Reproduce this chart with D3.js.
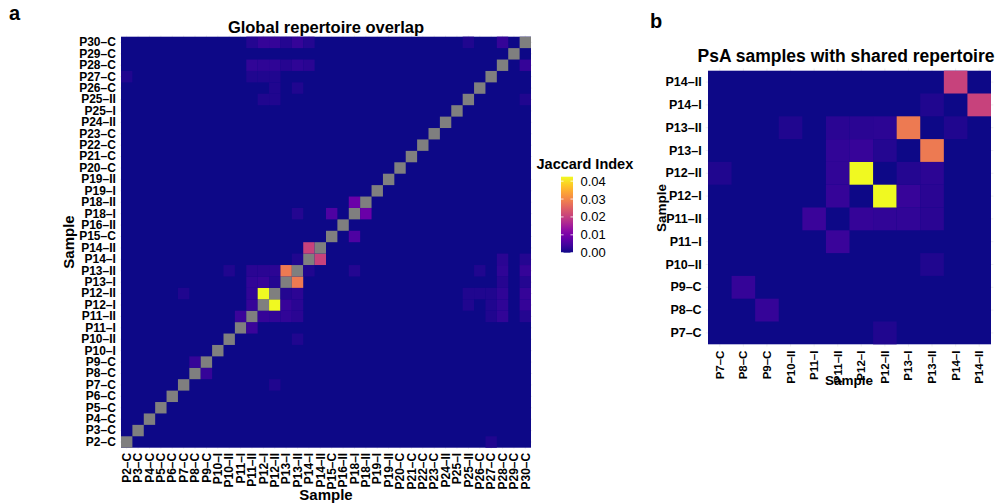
<!DOCTYPE html>
<html>
<head>
<meta charset="utf-8">
<script src="https://cdn.jsdelivr.net/npm/d3@7"></script>
<style>
  body { margin: 0; background: #fff; }
  svg { font-family: "Liberation Sans", Arial, Helvetica, sans-serif; }
</style>
</head>
<body>
<div id="chart"></div>
<script>
// all samples, bottom-to-top / left-to-right
const samples = ["P2–C", "P3–C", "P4–C", "P5–C", "P6–C", "P7–C", "P8–C", "P9–C",
  "P10–I", "P10–II", "P11–I", "P11–II", "P12–I", "P12–II", "P13–I", "P13–II",
  "P14–I", "P14–II", "P15–C", "P16–II", "P18–I", "P18–II", "P19–I", "P19–II",
  "P20–C", "P21–C", "P22–C", "P23–C", "P24–II", "P25–I", "P25–II", "P26–C",
  "P27–C", "P28–C", "P29–C", "P30–C"];

// samples in panel b
const psaSamples = ["P7–C", "P8–C", "P9–C", "P10–II", "P11–I", "P11–II",
  "P12–I", "P12–II", "P13–I", "P13–II", "P14–I", "P14–II"];

// non-zero overlaps (symmetric), everything else is ~0
const sampleA = ["P12–I", "P13–I", "P14–I", "P18–I", "P15–C", "P13–II", "P8–C", "P11–I",
  "P11–II", "P11–II", "P11–II", "P11–II", "P12–I", "P12–I", "P12–II", "P12–II",
  "P13–II", "P10–II", "P7–C", "P2–C", "P11–II", "P12–I", "P12–II", "P13–I",
  "P13–II", "P14–I", "P11–II", "P12–I", "P12–II", "P13–I", "P13–II", "P14–I",
  "P25–II", "P28–C", "P11–II", "P12–I", "P12–II", "P12–II", "P13–II", "P12–I", "P12–II"];
const sampleB = ["P12–II", "P13–II", "P14–II", "P18–II", "P18–I", "P18–I", "P9–C", "P11–II",
  "P12–I", "P12–II", "P13–I", "P13–II", "P13–I", "P13–II", "P13–I", "P13–II",
  "P14–I", "P13–II", "P12–II", "P27–C", "P28–C", "P28–C", "P28–C", "P28–C",
  "P28–C", "P28–C", "P30–C", "P30–C", "P30–C", "P30–C", "P30–C", "P30–C",
  "P30–C", "P30–C", "P27–C", "P27–C", "P27–C", "P26–C", "P26–C", "P25–II", "P25–II"];
const jaccard = [0.0425, 0.0285, 0.0205, 0.0085, 0.0055, 0.0015, 0.003, 0.0035,
  0.003, 0.0028, 0.0028, 0.002, 0.0032, 0.002, 0.0015, 0.0022,
  0.0012, 0.0012, 0.0012, 0.0012, 0.0028, 0.0025, 0.0025, 0.0018,
  0.0025, 0.002, 0.0015, 0.003, 0.003, 0.0015, 0.003, 0.0015,
  0.0012, 0.003, 0.0013, 0.0013, 0.0013, 0.0012, 0.0012, 0.0012, 0.0012];

const legendTicks = [0, 0.01, 0.02, 0.03, 0.04];
const maxJaccard = 0.0425;

const W = 1006, H = 504;
const svg = d3.select("#chart").append("svg").attr("width", W).attr("height", H);

const color = d3.scaleSequential(d3.interpolatePlasma).domain([0, maxJaccard]);

function lookup(a, b) {
  for (let k = 0; k < jaccard.length; k++) {
    if ((sampleA[k] === a && sampleB[k] === b) || (sampleA[k] === b && sampleB[k] === a)) return jaccard[k];
  }
  return 0;
}

function heatmap({names, left, right, top, bottom, diagNA, tickSizeY, tickSizeX}) {
  const x = d3.scaleBand().domain(names).range([left, right]);
  const y = d3.scaleBand().domain(names).range([bottom, top]);
  const ex = x.step() * 0.1, ey = y.step() * 0.1;
  const g = svg.append("g");

  // faint grid (only visible in the small panel margin)
  g.selectAll(".gx").data(names).join("line")
    .attr("x1", d => x(d) + x.bandwidth() / 2).attr("x2", d => x(d) + x.bandwidth() / 2)
    .attr("y1", top - ey).attr("y2", bottom + ey)
    .attr("stroke", "#ebebeb").attr("stroke-width", 0.8);
  g.selectAll(".gy").data(names).join("line")
    .attr("y1", d => y(d) + y.bandwidth() / 2).attr("y2", d => y(d) + y.bandwidth() / 2)
    .attr("x1", left - ex).attr("x2", right + ex)
    .attr("stroke", "#ebebeb").attr("stroke-width", 0.8);

  // base under tiles so no seams show through
  g.append("rect").attr("x", left).attr("y", top).attr("width", right - left)
    .attr("height", bottom - top).attr("fill", color(0));

  const cells = [];
  names.forEach(r => names.forEach(c => {
    cells.push({r, c, v: r === c ? (diagNA ? null : 0) : lookup(r, c)});
  }));
  g.selectAll(".cell").data(cells.filter(d => d.v !== 0)).join("rect")
    .attr("class", "cell")
    .attr("x", d => x(d.c)).attr("y", d => y(d.r))
    .attr("width", x.bandwidth()).attr("height", y.bandwidth())
    .attr("fill", d => d.v === null ? "#7f7f7f" : color(d.v));

  const ya = g.append("g").attr("transform", `translate(${left},0)`)
    .call(d3.axisLeft(y).tickSize(0).tickPadding(ex + 4));
  ya.select(".domain").remove();
  ya.selectAll("text").attr("font-size", tickSizeY).attr("font-weight", "bold")
    .attr("fill", "#000").attr("font-family", null);

  const xa = g.append("g").attr("transform", `translate(0,${bottom})`)
    .call(d3.axisBottom(x).tickSize(0));
  xa.select(".domain").remove();
  xa.selectAll("text").attr("font-size", tickSizeX).attr("font-weight", "bold")
    .attr("fill", "#000").attr("font-family", null)
    .attr("transform", "rotate(-90)").attr("x", -(ey + 4)).attr("y", 0)
    .attr("dy", "0.35em").style("text-anchor", "end");
  return {x, y};
}

// panel a
heatmap({names: samples, left: 121, right: 531, top: 36.7, bottom: 447.7,
  diagNA: true, tickSizeY: 12, tickSizeX: 12});

svg.append("text").attr("x", 326).attr("y", 33).attr("text-anchor", "middle")
  .attr("font-size", 16.5).attr("font-weight", "bold").text("Global repertoire overlap");
svg.append("text").attr("x", 326).attr("y", 500).attr("text-anchor", "middle")
  .attr("font-size", 15).attr("font-weight", "bold").text("Sample");
svg.append("text").attr("transform", "translate(74,242) rotate(-90)").attr("text-anchor", "middle")
  .attr("font-size", 15).attr("font-weight", "bold").text("Sample");
svg.append("text").attr("x", 9).attr("y", 20).attr("font-size", 20).attr("font-weight", "bold").text("a");

// legend
const lg = svg.append("g");
const barX = 561, barW = 12, barTop = 176.7, barBot = 252.7;
const ly = d3.scaleLinear().domain([0, maxJaccard]).range([barBot, barTop]);
const grad = svg.append("defs").append("linearGradient").attr("id", "plasma")
  .attr("x1", 0).attr("y1", 1).attr("x2", 0).attr("y2", 0);
d3.range(0, 1.0001, 0.05).forEach(t => {
  grad.append("stop").attr("offset", t).attr("stop-color", d3.interpolatePlasma(t));
});
lg.append("rect").attr("x", barX).attr("y", barTop).attr("width", barW)
  .attr("height", barBot - barTop).attr("fill", "url(#plasma)");
lg.selectAll(".tl").data(legendTicks).join("line")
  .attr("x1", barX).attr("x2", barX + 2.5).attr("y1", d => ly(d)).attr("y2", d => ly(d))
  .attr("stroke", "#fff").attr("stroke-width", 0.8);
lg.selectAll(".tr").data(legendTicks).join("line")
  .attr("x1", barX + barW - 2.5).attr("x2", barX + barW).attr("y1", d => ly(d)).attr("y2", d => ly(d))
  .attr("stroke", "#fff").attr("stroke-width", 0.8);
lg.selectAll(".lab").data(legendTicks).join("text")
  .attr("x", barX + barW + 7.5).attr("y", d => ly(d)).attr("dy", "0.35em")
  .attr("font-size", 13).text(d => d3.format(".2f")(d));
lg.append("text").attr("x", 536.5).attr("y", 169).attr("font-size", 14.5)
  .attr("font-weight", "bold").text("Jaccard Index");

// panel b
heatmap({names: psaSamples, left: 708, right: 991, top: 70.7, bottom: 344.3,
  diagNA: false, tickSizeY: 12.5, tickSizeX: 11.5});

svg.append("text").attr("x", 846).attr("y", 62).attr("text-anchor", "middle")
  .attr("font-size", 17.5).attr("font-weight", "bold").text("PsA samples with shared repertoire");
svg.append("text").attr("x", 849).attr("y", 385).attr("text-anchor", "middle")
  .attr("font-size", 13.5).attr("font-weight", "bold").text("Sample");
svg.append("text").attr("transform", "translate(666,208) rotate(-90)").attr("text-anchor", "middle")
  .attr("font-size", 13.5).attr("font-weight", "bold").text("Sample");
svg.append("text").attr("x", 650).attr("y", 28).attr("font-size", 20).attr("font-weight", "bold").text("b");
</script>
</body>
</html>
